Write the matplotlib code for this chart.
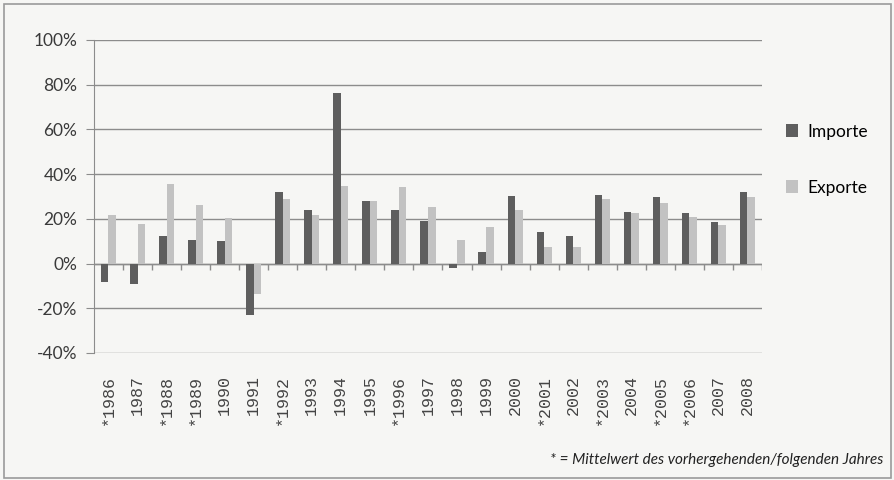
import numpy as np
import matplotlib
matplotlib.use("Agg")
import matplotlib.pyplot as plt
from matplotlib.patches import Rectangle

# jaehrliche Veraenderung in %
years = ["*1986", "1987", "*1988", "*1989", "1990", "1991", "*1992", "1993", "1994",
         "1995", "*1996", "1997", "1998", "1999", "2000", "*2001", "2002", "*2003",
         "2004", "*2005", "*2006", "2007", "2008"]
importe = [-8.2, -9.0, 12.4, 10.7, 9.9, -23.1, 32.1, 23.9, 76.1, 28.1, 23.9, 19.1,
           -2.2, 5.1, 30.3, 14.0, 12.2, 30.7, 23.1, 29.6, 22.7, 18.5, 32.1]
exporte = [21.6, 17.6, 35.5, 26.1, 20.4, -13.4, 28.7, 21.9, 34.8, 28.1, 34.3, 25.2,
           10.6, 16.3, 23.9, 7.6, 7.2, 28.7, 22.4, 27.2, 20.9, 17.2, 29.6]
yticks = [-40, -20, 0, 20, 40, 60, 80, 100]
footnote = "* = Mittelwert des vorhergehenden/folgenden Jahres"

paper = "#f6f6f4"
grid_c = "#8c8c8c"
plt.rcParams['font.family'] = ['Lato', 'DejaVu Sans']

fig = plt.figure(figsize=(8.94, 4.8), dpi=100, facecolor=paper)
ax = fig.add_axes([0.1051, 0.2646, 0.7472, 0.6521])
ax.set_facecolor(paper)

# rahmen um die ganze grafik
fig.patches.append(Rectangle((4/894, 2/480), 887/894, 474/480, transform=fig.transFigure,
                             fill=False, edgecolor="#9a9a9a", linewidth=1.2))

x = np.arange(len(years))
w = 0.26
ax.bar(x - w/2, importe, w, color="#5e5e5e", label="Importe", zorder=3)
ax.bar(x + w/2, exporte, w, color="#c2c2c2", label="Exporte", zorder=3)

ax.set_xlim(-0.5, len(years) - 0.5)
ax.set_ylim(-40, 100)
ax.set_yticks(yticks)
ax.set_yticklabels([f"{v}%" for v in yticks], fontsize=12.5, color="#3a3a3a")
ax.yaxis.grid(True, color=grid_c, linewidth=1.0, zorder=0)
ax.tick_params(axis='y', length=6, color=grid_c, pad=6)

for s in ["top", "right", "bottom"]:
    ax.spines[s].set_visible(False)
ax.spines["left"].set_color(grid_c)

# x-achse bei 0 mit strichen zwischen den jahren
ax.axhline(0, color=grid_c, linewidth=1.0, zorder=2)
ax.vlines(np.arange(len(years)) + 0.5, -2.7, 0, color=grid_c, linewidth=1.0, zorder=2)

ax.set_xticks(x)
ax.set_xticklabels(years, rotation=90, fontsize=12, family="Liberation Mono",
                   color="#444444", va="top")
ax.tick_params(axis='x', length=0, pad=16)

fig.legend(loc="upper left", bbox_to_anchor=(0.862, 0.775), frameon=False,
           fontsize=12.5, handlelength=0.7, handleheight=0.7, handletextpad=0.5,
           labelspacing=2.3)

fig.text(0.988, 0.042, footnote, ha="right", va="center", fontsize=11,
         style="italic", color="#222222")

fig.savefig("out.png", dpi=100, facecolor=paper)
